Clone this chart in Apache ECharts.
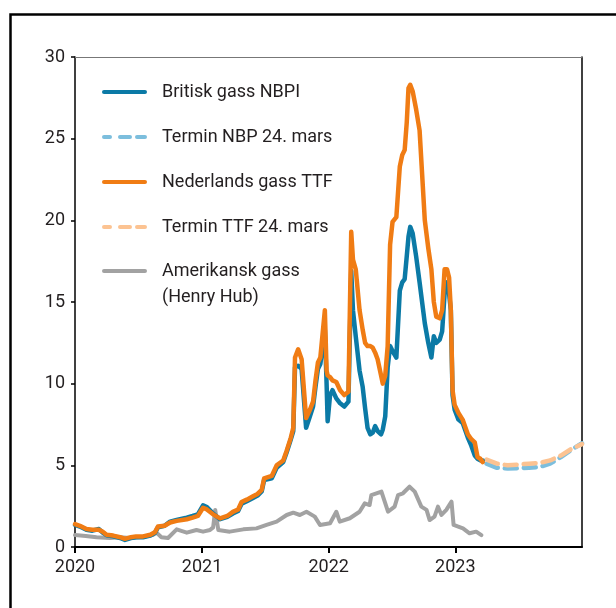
<!DOCTYPE html>
<html>
<head>
<meta charset="utf-8">
<script src="https://cdn.jsdelivr.net/npm/echarts@6/dist/echarts.min.js"></script>
<style>
html,body{margin:0;padding:0;background:#fff;}
#chart{width:616px;height:608px;}
</style>
</head>
<body>
<div id="chart"></div>
<script>
// ---- Data ----
const seriesNames = ['Britisk gass NBPI', 'Termin NBP 24. mars', 'Nederlands gass TTF', 'Termin TTF 24. mars', 'Amerikansk gass\n(Henry Hub)'];

const gasDates = [
  '2020-01-01','2020-01-15','2020-02-03','2020-02-20','2020-03-10','2020-03-20','2020-04-01','2020-04-20',
  '2020-05-10','2020-05-24','2020-06-10','2020-06-25','2020-07-15','2020-08-05','2020-08-18','2020-08-27',
  '2020-09-15','2020-10-01','2020-10-20','2020-11-18','2020-12-05','2020-12-20','2021-01-04','2021-01-15',
  '2021-02-02','2021-02-22','2021-03-15','2021-03-31','2021-04-15','2021-04-25','2021-05-10','2021-05-28',
  '2021-06-10','2021-06-22','2021-06-29','2021-07-21','2021-08-04','2021-08-23','2021-09-02','2021-09-14',
  '2021-09-21','2021-09-26','2021-10-05','2021-10-15','2021-10-28','2021-11-08','2021-11-17','2021-11-24',
  '2021-12-01','2021-12-08','2021-12-21','2021-12-26','2021-12-29','2022-01-05','2022-01-12','2022-01-23',
  '2022-02-03','2022-02-15','2022-02-27','2022-03-07','2022-03-12','2022-03-20','2022-03-31','2022-04-09',
  '2022-04-16','2022-04-23','2022-05-01','2022-05-08','2022-05-15','2022-05-22','2022-06-01','2022-06-06',
  '2022-06-13','2022-06-20','2022-06-27','2022-07-04','2022-07-15','2022-07-25','2022-08-01','2022-08-08',
  '2022-08-14','2022-08-19','2022-08-24','2022-08-31','2022-09-10','2022-09-20','2022-10-05','2022-10-15',
  '2022-10-24','2022-10-31','2022-11-07','2022-11-17','2022-11-24','2022-12-01','2022-12-08','2022-12-14',
  '2022-12-19','2022-12-24','2022-12-30','2023-01-10','2023-01-22','2023-02-06','2023-02-16','2023-02-26',
  '2023-03-06','2023-03-14','2023-03-21'
];
const nbpValues = [
  1.35,1.25,1.05,1.0,1.1,0.9,0.72,0.65,
  0.55,0.43,0.55,0.6,0.6,0.7,0.85,1.2,
  1.3,1.55,1.65,1.8,1.9,2.0,2.55,2.45,
  2.05,1.7,1.85,2.05,2.2,2.65,2.8,3.0,
  3.15,3.4,4.1,4.2,4.85,5.2,5.8,6.6,
  7.1,11.0,11.1,10.9,7.3,8.0,8.6,9.8,
  10.9,11.2,13.3,10.0,7.7,9.3,9.6,9.1,
  8.8,8.6,8.9,16.9,14.5,12.9,10.8,9.8,
  8.5,7.3,6.9,7.0,7.4,7.1,6.9,7.2,
  8.0,11.0,12.3,12.0,11.6,15.7,16.2,16.4,
  17.8,19.0,19.6,19.2,17.8,16.2,13.7,12.5,
  11.6,12.9,12.5,12.7,13.2,15.5,16.2,15.5,
  14.5,9.3,8.4,7.8,7.6,6.7,6.2,5.6,
  5.4,5.3,5.3
];
const ttfValues = [
  1.4,1.3,1.1,1.05,1.05,0.95,0.75,0.7,
  0.6,0.5,0.6,0.65,0.65,0.75,0.9,1.25,
  1.3,1.5,1.6,1.7,1.8,1.9,2.4,2.3,
  2.0,1.75,1.9,2.15,2.3,2.75,2.9,3.1,
  3.25,3.5,4.2,4.35,5.0,5.3,5.9,6.7,
  7.3,11.6,12.1,11.5,7.9,8.4,8.9,10.2,
  11.3,11.6,14.5,10.8,10.5,10.4,10.2,10.1,
  9.6,9.3,9.5,19.3,17.6,17.0,14.5,13.3,
  12.5,12.3,12.3,12.2,11.9,11.5,10.5,10.0,
  10.5,12.3,18.5,19.9,20.2,23.3,24.0,24.3,
  26.0,28.1,28.3,27.9,26.8,25.5,20.0,18.3,
  17.0,15.0,14.1,14.0,14.5,17.0,17.0,16.5,
  14.5,9.6,8.7,8.2,7.8,6.9,6.6,6.4,
  5.5,5.4,5.2
];

const fwdDates = ['2023-04-01','2023-05-01','2023-06-01','2023-07-01','2023-08-01','2023-09-01','2023-10-01','2023-11-01','2023-12-01','2024-01-01'];
const nbpForward = [5.1,4.85,4.8,4.82,4.85,4.9,5.1,5.5,5.95,6.35];
const ttfForward = [5.35,5.1,5.0,5.05,5.1,5.15,5.3,5.6,6.0,6.3];

const hhDates = [
  '2020-01-01','2020-02-01','2020-03-03','2020-04-10','2020-05-10','2020-06-07','2020-07-15','2020-08-12',
  '2020-08-23','2020-09-06','2020-09-25','2020-10-20','2020-11-18','2020-12-16','2021-01-04','2021-01-24',
  '2021-02-02','2021-02-08','2021-02-17','2021-03-22','2021-04-30','2021-06-07','2021-07-06','2021-08-04',
  '2021-09-02','2021-09-21','2021-10-10','2021-10-29','2021-11-22','2021-12-07','2022-01-05','2022-01-23',
  '2022-02-02','2022-03-03','2022-03-31','2022-04-15','2022-04-29','2022-05-04','2022-06-02','2022-06-21',
  '2022-07-10','2022-07-20','2022-08-03','2022-08-22','2022-09-06','2022-09-25','2022-10-10','2022-10-19',
  '2022-11-02','2022-11-12','2022-11-22','2022-12-06','2022-12-21','2022-12-27','2023-01-23','2023-02-11',
  '2023-03-02','2023-03-17'
];
const hhValues = [
  0.73,0.68,0.6,0.55,0.6,0.55,0.63,0.73,
  0.88,0.6,0.55,1.08,0.88,1.04,0.94,1.04,
  1.2,2.27,1.04,0.94,1.08,1.14,1.35,1.55,
  1.96,2.1,1.96,2.16,1.86,1.35,1.45,2.16,
  1.55,1.76,2.16,2.67,2.57,3.18,3.39,2.16,
  2.47,3.18,3.29,3.69,3.39,2.47,2.27,1.65,
  1.86,2.47,1.96,2.27,2.78,1.35,1.14,0.84,
  0.94,0.73
];

const yTicks = { min: 0, max: 30, interval: 5 };
const xRange = { min: '2020-01-01', max: '2024-01-01' };

// ---- Build chart ----
const pair = (d, v) => d.map((x, i) => [x, v[i]]);
const FONT = 'Roboto';
const TXT = '#231f20';
const C = { nbp: '#0b7aa6', nbpF: '#7cbedd', ttf: '#f07c14', ttfF: '#fcc392', hh: '#a2a2a2' };
const ICON_SOLID = 'path://M2,0h41a2,2 0 0 1 0,4h-41a2,2 0 0 1 0,-4z';
const ICON_DASH = 'path://M2,0h6a2,2 0 0 1 0,4h-6a2,2 0 0 1 0,-4z M18,0h10a2,2 0 0 1 0,4h-10a2,2 0 0 1 0,-4z M35,0h8a2,2 0 0 1 0,4h-8a2,2 0 0 1 0,-4z';
const ICON_SOLID_TOP = 'path://M2,0h41a2,2 0 0 1 0,4h-41a2,2 0 0 1 0,-4z M44.99,29.99h0.01v0.01h-0.01z';

const chart = echarts.init(document.getElementById('chart'), null, { renderer: 'canvas' });
const lineSeries = (name, data, color, dashed, width, z) => ({
  name, type: 'line', data, symbol: 'none', showSymbol: false, smooth: false, z,
  lineStyle: { color, width, type: dashed ? [12, 7] : 'solid', cap: 'round', join: 'round' },
  itemStyle: { color }, emphasis: { disabled: true }, animation: false
});

chart.setOption({
  animation: false,
  backgroundColor: '#fff',
  textStyle: { fontFamily: FONT },
  graphic: [{
    type: 'rect', left: 8, top: 12, silent: true,
    shape: { width: 700, height: 700 },
    style: { fill: 'none', stroke: '#000', lineWidth: 2.5 }
  }],
  grid: { left: 75, right: 34, top: 57, bottom: 61, containLabel: false },
  legend: [{
    orient: 'vertical', left: 102, top: 79, padding: 0, itemGap: 19,
    itemWidth: 45, itemHeight: 14,
    data: [
      { name: seriesNames[0], icon: ICON_SOLID },
      { name: seriesNames[1], icon: ICON_DASH },
      { name: seriesNames[2], icon: ICON_SOLID },
      { name: seriesNames[3], icon: ICON_DASH }
    ],
    textStyle: { fontFamily: FONT, fontSize: 18, color: TXT, lineHeight: 26, padding: [0, 0, 0, 10] },
    selectedMode: false
  }, {
    orient: 'vertical', left: 102, top: 258, padding: 0,
    itemWidth: 45, itemHeight: 30,
    data: [{ name: seriesNames[4], icon: ICON_SOLID_TOP }],
    textStyle: { fontFamily: FONT, fontSize: 18, color: TXT, lineHeight: 26, padding: [0, 0, 0, 10] },
    selectedMode: false
  }],
  xAxis: [{
    type: 'time', min: xRange.min, max: xRange.max, splitNumber: 4,
    minInterval: 365 * 24 * 3600 * 1000,
    axisLine: { show: true, lineStyle: { color: '#000', width: 2 } },
    axisTick: { show: true, length: 6, lineStyle: { color: '#000', width: 2 } },
    axisLabel: { formatter: '{yyyy}', fontFamily: FONT, fontSize: 18, color: TXT, margin: 11, showMaxLabel: false, showMinLabel: true },
    splitLine: { show: false }
  }, {
    type: 'time', position: 'top', min: xRange.min, max: xRange.max,
    axisLine: { show: true, onZero: false, lineStyle: { color: '#777', width: 1 } },
    axisTick: { show: false }, axisLabel: { show: false }, splitLine: { show: false }
  }],
  yAxis: [{
    type: 'value', min: yTicks.min, max: yTicks.max, interval: yTicks.interval,
    axisLine: { show: true, lineStyle: { color: '#000', width: 1.5 } },
    axisTick: { show: true, length: 4, lineStyle: { color: '#000', width: 1.5 } },
    axisLabel: { fontFamily: FONT, fontSize: 18, color: TXT, margin: 10 },
    splitLine: { show: false }
  }, {
    type: 'value', position: 'right', min: yTicks.min, max: yTicks.max, interval: yTicks.interval,
    axisLine: { show: true, onZero: false, lineStyle: { color: '#000', width: 1.5 } },
    axisTick: { show: false }, axisLabel: { show: false }, splitLine: { show: false }
  }],
  series: [
    lineSeries(seriesNames[4], pair(hhDates, hhValues), C.hh, false, 4, 2),
    lineSeries(seriesNames[1], pair(fwdDates, nbpForward), C.nbpF, true, 4.5, 3),
    lineSeries(seriesNames[3], pair(fwdDates, ttfForward), C.ttfF, true, 4.5, 3),
    lineSeries(seriesNames[0], pair(gasDates, nbpValues), C.nbp, false, 4.5, 4),
    lineSeries(seriesNames[2], pair(gasDates, ttfValues), C.ttf, false, 4.5, 5)
  ]
});
</script>
</body>
</html>
